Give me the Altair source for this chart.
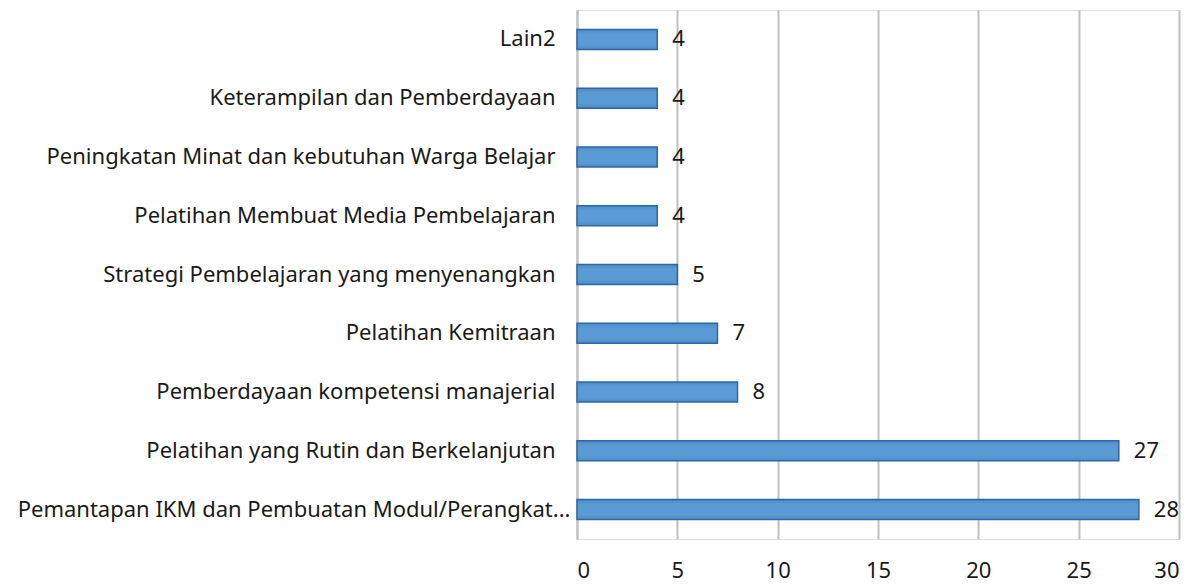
import altair as alt
import pandas as pd

categories = [
    "Lain2",
    "Keterampilan dan Pemberdayaan",
    "Peningkatan Minat dan kebutuhan Warga Belajar",
    "Pelatihan Membuat Media Pembelajaran",
    "Strategi Pembelajaran yang menyenangkan",
    "Pelatihan Kemitraan",
    "Pemberdayaan kompetensi manajerial",
    "Pelatihan yang Rutin dan Berkelanjutan",
    "Pemantapan IKM dan Pembuatan Modul/Perangkat...",
]
values = [4, 4, 4, 4, 5, 7, 8, 27, 28]
x_ticks = [0, 5, 10, 15, 20, 25, 30]

df = pd.DataFrame({"cat": categories, "val": values})

FONT = "Noto Sans"
FS = 22

y_enc = alt.Y(
    "cat:N",
    sort=categories,
    title=None,
    scale=alt.Scale(paddingInner=0.66, paddingOuter=0.33),
    axis=alt.Axis(
        labelFont=FONT,
        labelFontSize=FS,
        labelColor="#1a1a1a",
        labelPadding={
            "condition": {"test": "datum.label == 'Pemantapan IKM dan Pembuatan Modul/Perangkat...'", "value": 7},
            "value": 22,
        },
        labelLimit=620,
        ticks=False,
        domainColor="#bfbfbf",
        domainWidth=2,
    ),
)
x_enc = alt.X(
    "val:Q",
    title=None,
    scale=alt.Scale(domain=[0, 30], nice=False),
    axis=alt.Axis(
        values=x_ticks,
        labelFont=FONT,
        labelFontSize=FS,
        labelColor="#1a1a1a",
        labelPadding=21,
        ticks=False,
        domain=False,
        grid=True,
        gridColor="#bfbfbf",
        gridWidth=2,
    ),
)

bars = alt.Chart(df).mark_bar(
    fill=alt.Gradient(
        gradient="linear",
        x1=0, x2=0, y1=0, y2=1,
        stops=[
            alt.GradientStop(offset=0, color="#4c8bc9"),
            alt.GradientStop(offset=0.25, color="#5b9bd5"),
            alt.GradientStop(offset=0.75, color="#5b9bd5"),
            alt.GradientStop(offset=1, color="#4c8bc9"),
        ],
    ),
    stroke="#2f67a3",
    strokeWidth=1.5,
).encode(y=y_enc, x=x_enc)

labels = alt.Chart(df).mark_text(
    align="left", baseline="middle", dx=15, font=FONT, fontSize=FS, color="#1a1a1a"
).encode(y=alt.Y("cat:N", sort=categories), x=alt.X("val:Q"), text="val:Q")

chart = (
    alt.layer(bars, labels)
    .properties(
        width=602,
        height=529,
        autosize=alt.AutoSizeParams(type="none"),
        padding={"left": 569, "top": 2, "right": 10, "bottom": 45},
    )
    .configure_view(stroke=None)
    .configure(background="white")
)

chart.save("out.html", embed_options={"renderer": "svg", "actions": False})
